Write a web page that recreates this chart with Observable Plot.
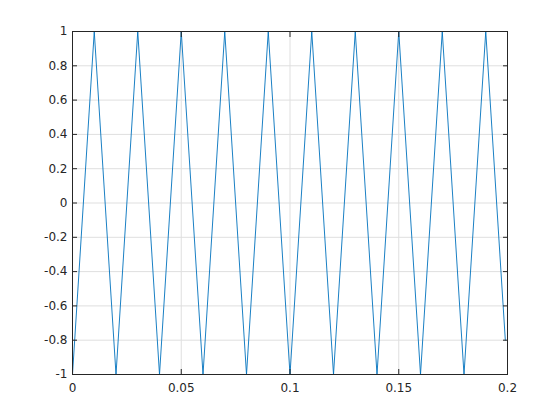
<!DOCTYPE html>
<html><head><meta charset="utf-8">
<script src="https://cdn.jsdelivr.net/npm/d3@7"></script>
<script src="https://cdn.jsdelivr.net/npm/@observablehq/plot@0.6"></script>
<style>body{margin:0;background:#fff;}</style>
</head><body><div id="chart"></div>
<script>
// vertices of the triangle wave
const time = [0, 0.01, 0.02, 0.03, 0.04, 0.05, 0.06, 0.07, 0.08, 0.09, 0.10,
              0.11, 0.12, 0.13, 0.14, 0.15, 0.16, 0.17, 0.18, 0.19, 0.199];
const signal = [-1, 1, -1, 1, -1, 1, -1, 1, -1, 1, -1,
                1, -1, 1, -1, 1, -1, 1, -1, 1, -0.8];
const xTicks = [0, 0.05, 0.1, 0.15, 0.2];
const yTicks = [-1, -0.8, -0.6, -0.4, -0.2, 0, 0.2, 0.4, 0.6, 0.8, 1];

const data = time.map((t, i) => ({t, v: signal[i]}));
const ink = "#262626";
const grid = "#dfdfdf";

const chart = Plot.plot({
  width: 560, height: 420,
  marginLeft: 72, marginRight: 53, marginTop: 31, marginBottom: 46,
  style: {fontFamily: "DejaVu Sans", fontSize: "12px", color: ink, background: "#fff"},
  x: {domain: [0, 0.2], label: null},
  y: {domain: [-1, 1], label: null},
  marks: [
    Plot.gridX(xTicks, {stroke: grid, strokeOpacity: 1}),
    Plot.gridY(yTicks, {stroke: grid, strokeOpacity: 1}),
    Plot.line(data, {x: "t", y: "v", stroke: "#0072BD", strokeWidth: 0.9}),
    Plot.frame({stroke: ink}),
    Plot.axisX(xTicks, {anchor: "bottom", tickSize: 0, tickPadding: 9, tickFormat: d => String(d), label: null}),
    Plot.axisY(yTicks, {anchor: "left", tickSize: 0, tickPadding: 5, tickFormat: d => String(d), label: null}),
    Plot.axisX(xTicks, {anchor: "bottom", tickSize: -5, tickFormat: () => "", label: null}),
    Plot.axisX(xTicks, {anchor: "top", tickSize: -5, tickFormat: () => "", label: null}),
    Plot.axisY(yTicks, {anchor: "left", tickSize: -5, tickFormat: () => "", label: null}),
    Plot.axisY(yTicks, {anchor: "right", tickSize: -5, tickFormat: () => "", label: null})
  ]
});
document.getElementById("chart").append(chart);
</script>
</body></html>
